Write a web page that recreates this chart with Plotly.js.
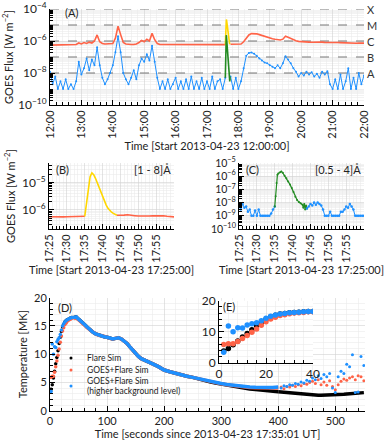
<!DOCTYPE html>
<html>
<head>
<meta charset="utf-8">
<script src="https://cdn.plot.ly/plotly-3.0.1.min.js"></script>
<style>html,body{margin:0;padding:0;background:#fff}</style>
</head>
<body>
<div id="chart" style="width:389px;height:442px"></div>
<script>
// ---- data ----
const DAY = '2013-04-23 ';

// GOES class thresholds (panel A dashed lines)
const goesClassFlux = [1e-4, 1e-5, 1e-6, 1e-7, 1e-8];
const goesClassLabel = ['X', 'M', 'C', 'B', 'A'];

// panel A: 5 min samples 12:00 -> 22:00
const longChannelA = [
    5.5e-7,5.5e-7,5.4e-7,5.5e-7,5.4e-7,5.5e-7,5.5e-7,5.4e-7,5.5e-7,5.6e-7,6.0e-7,7.5e-7,
    6.5e-7,8.0e-7,7.0e-7,8.5e-7,7.5e-7,1.0e-6,2.4e-6,9.0e-7,7.0e-7,6.5e-7,6.5e-7,6.5e-7,
    7.0e-7,1.5e-6,8.5e-6,2.5e-6,8.0e-7,6.5e-7,6.0e-7,6.0e-7,6.0e-7,6.5e-7,8.0e-7,1.1e-6,
    9.0e-7,1.3e-6,1.0e-6,3.0e-6,1.2e-6,7.0e-7,6.0e-7,6.0e-7,5.9e-7,5.9e-7,6.0e-7,6.0e-7,
    6.1e-7,6.0e-7,6.0e-7,6.1e-7,6.2e-7,6.1e-7,6.1e-7,6.2e-7,6.3e-7,6.2e-7,6.3e-7,6.3e-7,
    6.4e-7,6.3e-7,6.2e-7,6.1e-7,6.0e-7,5.8e-7,5.8e-7,5.9e-7,null,6.3e-7,6.2e-7,6.3e-7,
    6.0e-7,6.5e-7,9.0e-7,1.6e-6,2.4e-6,2.9e-6,3.0e-6,2.8e-6,2.5e-6,2.2e-6,1.9e-6,1.7e-6,
    1.5e-6,1.4e-6,1.3e-6,1.2e-6,1.15e-6,1.3e-6,2.0e-6,1.7e-6,1.4e-6,1.2e-6,1.05e-6,9.5e-7,
    9.0e-7,8.8e-7,8.5e-7,8.5e-7,8.3e-7,8.5e-7,8.8e-7,8.3e-7,8.5e-7,8.2e-7,8.0e-7,8.3e-7,
    8.0e-7,7.8e-7,8.0e-7,7.9e-7,7.7e-7,7.8e-7,7.5e-7,7.4e-7,7.6e-7,7.3e-7,7.5e-7,7.2e-7,
    7.4e-7
];
const shortChannelA = [
    1.2e-8,2e-9,6e-9,1e-9,3e-9,1e-9,4e-9,1e-9,2e-9,1e-9,3e-9,5e-8,
    8e-9,2e-8,8e-8,1.5e-8,7e-8,3e-8,4e-7,3e-8,5e-9,2e-9,4e-9,1e-8,
    3e-8,2e-7,2e-6,2e-7,1e-8,4e-9,2e-9,5e-9,1.5e-8,4e-9,3e-8,8e-8,
    5e-8,1.5e-7,6e-8,5e-7,5e-8,5e-9,1e-9,3e-9,1e-9,4e-9,1e-9,2e-9,
    5e-9,1e-9,3e-9,1e-9,4e-9,1e-9,6e-9,1e-9,3e-9,1e-9,5e-9,1e-9,
    3e-9,1e-9,6e-9,1e-9,3e-9,4e-9,1e-9,5e-9,null,6e-9,1e-9,5e-9,
    1e-9,3e-9,2e-8,1.2e-7,1.8e-7,1.9e-7,1.6e-7,1.2e-7,8e-8,6e-8,4.5e-8,4e-8,
    3e-8,2.5e-8,2e-8,3e-8,2e-8,4e-8,1.1e-7,7e-8,4e-8,2e-8,1.2e-8,6e-9,
    1e-8,7e-9,1.2e-8,8e-9,1.1e-8,6e-9,9e-9,5e-9,1.2e-8,8e-9,1.3e-8,2e-9,
    1e-9,4e-9,1e-9,8e-9,1e-9,3e-9,2e-8,1e-9,5e-9,1e-9,1e-8,2e-9,
    7e-9
];

// panels B / C: 17:25 -> 18:00
const preLongFlux = [5.7e-7,5.6e-7,5.7e-7,5.7e-7,5.6e-7,5.7e-7,5.7e-7,5.8e-7,5.7e-7,5.8e-7,5.9e-7];
const flareLongTimes = ['17:35:00','17:35:30','17:36:00','17:36:30','17:37:00','17:37:30','17:38:00','17:38:30',
    '17:39:00','17:39:30','17:40:00','17:40:30','17:41:00','17:41:30','17:42:00','17:42:30','17:43:00','17:43:30','17:44:00'];
const flareLongFlux = [5.9e-7,1.8e-6,7e-6,1.6e-5,2.2e-5,1.9e-5,1.4e-5,9.5e-6,6.5e-6,4.3e-6,2.9e-6,2.0e-6,
    1.5e-6,1.15e-6,9.5e-7,8.3e-7,7.5e-7,6.9e-7,6.4e-7];
const postLongFlux = [6.4e-7,6.3e-7,6.5e-7,6.7e-7,6.6e-7,6.2e-7,6.0e-7,5.9e-7,5.9e-7,6.0e-7,6.1e-7,6.2e-7,
    6.4e-7,6.2e-7,5.9e-7,5.7e-7,5.6e-7];

const preShortFlux = [5e-9,3e-9,8e-9,4e-9,5e-9,2e-9,3e-9,1e-9,1e-9,2.5e-9,1e-9,3e-9,1e-9,1e-9,1e-9,1e-9,
    1e-9,1e-9,1.5e-9,3e-9,5e-9];
const flareShortTimes = ['17:35:00','17:35:15','17:35:30','17:35:45','17:36:00','17:36:30','17:36:50','17:37:15',
    '17:37:45','17:38:15','17:38:45','17:39:15','17:39:45','17:40:15','17:40:45','17:41:15','17:41:45','17:42:15',
    '17:42:45','17:43:00','17:43:15','17:43:30','17:43:45','17:44:00'];
const flareShortFlux = [5e-9,3e-8,3e-7,1.3e-6,1.6e-6,2.0e-6,2.3e-6,1.8e-6,1.1e-6,7e-7,4e-7,2.4e-7,1.25e-7,
    6.3e-8,2.8e-8,1.6e-8,1.1e-8,9e-9,7e-9,4e-9,8e-9,3e-9,6e-9,3.5e-9];
const postShortFlux = [3.5e-9,5e-9,8e-9,6e-9,1e-8,7e-9,1e-8,8e-9,6e-9,3e-9,1e-9,1e-9,1e-9,2e-9,1e-9,1e-9,
    1e-9,1e-9,1e-9,2e-9,2e-9,3e-9,5e-9,4e-9,8e-9,5e-9,3e-9,1e-9,1e-9,1e-9,1e-9,1e-9,1e-9];

// panels D / E: temperature [MK] vs seconds
const earlyTimes = [2,4,6,8,10,12,14,16,18,20,22,24,26,28,30,32,34,36,38,40];
const simEarly = [3.8,4.6,5.8,7.0,8.3,9.4,10.6,11.9,13.0,14.0,14.8,15.3,15.7,15.9,16.1,16.2,16.3,16.4,16.5,16.5];
const goesEarly = [5.9,6.1,6.1,6.8,7.8,8.8,9.8,10.9,12.1,13.2,14.1,14.7,15.2,15.5,15.8,16.0,16.1,16.2,16.4,16.4];
const goesHighEarly = [3.4,11.8,10.0,11.3,11.2,12.2,12.6,12.9,13.5,14.3,15.0,15.4,15.7,15.9,16.1,16.2,16.3,16.4,16.5,16.5];

const mainTimes = [42,46,50,55,60,65,70,75,80,85,90,95,100,105,110,115,120,125,130,135,140,145,150,155,160,
    170,180,190,200,210,220,230,240,250,260,270,280,290,300,310,320,330,340,350,360,370,380,390,400];
const simMain = [16.5,16.6,16.2,15.8,15.3,14.8,14.3,13.9,13.6,13.4,13.3,13.1,13.0,12.8,12.7,12.8,12.9,12.7,
    12.3,11.9,11.3,10.7,10.2,9.6,9.2,8.8,8.3,7.8,7.2,6.9,6.6,6.3,6.1,5.9,5.6,5.35,5.1,4.9,4.7,4.5,4.3,4.15,
    4.0,3.85,3.75,3.65,3.55,3.45,3.35];
const goesMain = [16.3,16.4,16.1,15.7,15.2,14.7,14.3,13.9,13.6,13.4,13.3,13.1,13.0,12.8,12.7,12.8,12.9,12.7,
    12.3,11.9,11.3,10.7,10.2,9.6,9.2,8.8,8.3,7.8,7.2,6.9,6.6,6.3,6.1,5.9,5.65,5.45,5.2,5.0,4.75,4.6,4.45,4.3,
    4.2,4.1,4.05,4.0,3.95,3.95,4.0];
const goesHighMain = [16.5,16.6,16.2,15.8,15.3,14.8,14.3,13.9,13.6,13.4,13.3,13.1,13.0,12.8,12.7,12.8,12.9,12.7,
    12.3,11.9,11.3,10.7,10.2,9.6,9.2,8.8,8.3,7.8,7.2,6.9,6.6,6.3,6.1,5.9,5.65,5.45,5.2,5.0,4.8,4.65,4.5,4.4,
    4.3,4.2,4.15,4.1,4.1,4.1,4.2];

const tailTimes = [405,410,415,420,425,430,435,440,445,450,455,460,465,470,475,480,485,490,495,500,
    505,510,515,520,525,530,535,540,545,550];
const simTail = [3.3,3.25,3.2,3.15,3.1,3.05,3.0,2.95,2.9,2.85,2.8,2.78,2.76,2.75,2.75,2.75,2.76,2.77,2.78,2.8,
    2.83,2.86,2.9,2.95,3.0,3.05,3.1,3.12,3.15,3.2];
const goesTail = [4.2,3.9,4.3,4.2,4.5,4.3,4.6,4.4,4.8,4.7,5.0,5.2,4.8,5.5,4.6,5.1,4.5,5.3,4.3,3.7,
    4.6,5.2,5.6,5.4,5.8,6.0,5.5,6.2,6.0,5.3];
const goesHighTail = [4.0,4.4,4.3,4.6,4.5,4.8,4.7,5.1,4.9,5.4,5.2,5.8,5.5,6.2,5.7,6.4,6.0,6.6,4.0,3.2,
    6.0,7.0,6.6,8.2,7.8,9.9,3.2,3.3,9.6,8.0];

const legendNames = ['Flare Sim', 'GOES+Flare Sim', 'GOES+Flare Sim', '(higher background level)'];

// ---- helpers ----
const W = 389, H = 442;
const px = v => v / W;
const py = v => 1 - v / H;

function clock(startMin, stepSec, n) {
    return Array.from({length: n}, (v, i) => {
        const s = startMin * 60 + i * stepSec;
        const h = String(Math.floor(s / 3600)).padStart(2, '0');
        const m = String(Math.floor(s / 60) % 60).padStart(2, '0');
        const sec = String(s % 60).padStart(2, '0');
        return DAY + h + ':' + m + ':' + sec;
    });
}
const stamp = t => DAY + t;

function minorLog(lo, hi, extraDecades) {
    const out = [];
    for (let d = lo; d < hi; d++) {
        for (let k = 2; k <= 9; k++) out.push(k * Math.pow(10, d));
    }
    (extraDecades || []).forEach(d => out.push(Math.pow(10, d)));
    return out;
}
function powLabel(d) { return '10<sup>' + (d < 0 ? '\u2212' + (-d) : d) + '</sup>'; }

const RED = '#ff6347', BLUE = '#1e90ff', GOLD = '#ffd700', GREEN = '#228b22';

const timesA = clock(12 * 60, 300, 121);
const preLongTimes = clock(17 * 60 + 25, 60, 11);
const postLongTimes = clock(17 * 60 + 44, 60, 17);
const preShortTimes = clock(17 * 60 + 25, 30, 21);
const postShortTimes = clock(17 * 60 + 44, 30, 33);

const minorGrid = {ticks: 'inside', ticklen: 3, tickcolor: '#000', showgrid: true, gridcolor: '#ebebeb', gridwidth: 0.6};
function axis(extra) {
    return Object.assign({
        showline: true, linecolor: '#000', linewidth: 1, ticks: 'inside', ticklen: 5, tickcolor: '#000',
        showgrid: true, gridcolor: '#d2d2d2', gridwidth: 0.6, zeroline: false, mirror: false,
        tickfont: {size: 11}, automargin: false
    }, extra);
}

// ---- traces ----
const traces = [];

// class threshold lines
const classX = [], classY = [];
goesClassFlux.forEach(v => { classX.push(stamp('12:00:00'), stamp('22:00:00'), null); classY.push(v, v, null); });
traces.push({x: classX, y: classY, xaxis: 'x', yaxis: 'y', mode: 'lines', line: {color: '#777', width: 1, dash: 'dash'}, hoverinfo: 'skip'});

traces.push({x: timesA, y: longChannelA, xaxis: 'x', yaxis: 'y', mode: 'lines', line: {color: RED, width: 1.6}});
traces.push({x: timesA, y: shortChannelA, xaxis: 'x', yaxis: 'y', mode: 'lines+markers', line: {color: BLUE, width: 1}, marker: {size: 2, color: BLUE}});
traces.push({x: flareLongTimes.map(stamp), y: flareLongFlux, xaxis: 'x', yaxis: 'y', mode: 'lines', line: {color: GOLD, width: 1.6}});
traces.push({x: flareShortTimes.map(stamp), y: flareShortFlux, xaxis: 'x', yaxis: 'y', mode: 'lines', line: {color: GREEN, width: 1.6}});

// panel B
traces.push({x: preLongTimes, y: preLongFlux, xaxis: 'x2', yaxis: 'y2', mode: 'lines', line: {color: RED, width: 1.6}});
traces.push({x: flareLongTimes.map(stamp), y: flareLongFlux, xaxis: 'x2', yaxis: 'y2', mode: 'lines', line: {color: GOLD, width: 1.6}});
traces.push({x: postLongTimes, y: postLongFlux, xaxis: 'x2', yaxis: 'y2', mode: 'lines', line: {color: RED, width: 1.6}});

// panel C
traces.push({x: preShortTimes, y: preShortFlux, xaxis: 'x3', yaxis: 'y3', mode: 'lines+markers', line: {color: BLUE, width: 1}, marker: {size: 2.5, color: BLUE}});
traces.push({x: flareShortTimes.map(stamp), y: flareShortFlux, xaxis: 'x3', yaxis: 'y3', mode: 'lines+markers', line: {color: GREEN, width: 1.2}, marker: {size: 2, color: GREEN}});
traces.push({x: postShortTimes, y: postShortFlux, xaxis: 'x3', yaxis: 'y3', mode: 'lines+markers', line: {color: BLUE, width: 1}, marker: {size: 2.5, color: BLUE}});

// panel D: black, red, blue
const dSeries = [
    {early: simEarly, main: simMain, tail: simTail, color: '#000', tailLine: true},
    {early: goesEarly, main: goesMain, tail: goesTail, color: RED, tailLine: false},
    {early: goesHighEarly, main: goesHighMain, tail: goesHighTail, color: BLUE, tailLine: false}
];
dSeries.forEach(s => {
    traces.push({x: earlyTimes, y: s.early, xaxis: 'x4', yaxis: 'y4', mode: 'markers', marker: {size: 3.5, color: s.color}});
    traces.push({x: mainTimes, y: s.main, xaxis: 'x4', yaxis: 'y4', mode: 'lines', line: {color: s.color, width: 3.5}});
    if (s.tailLine) {
        traces.push({x: [400].concat(tailTimes), y: [s.main[s.main.length - 1]].concat(s.tail), xaxis: 'x4', yaxis: 'y4', mode: 'lines', line: {color: s.color, width: 3.5}});
    } else {
        traces.push({x: tailTimes, y: s.tail, xaxis: 'x4', yaxis: 'y4', mode: 'markers', marker: {size: 3, color: s.color}});
    }
});
// inset E
dSeries.forEach(s => {
    traces.push({x: earlyTimes, y: s.early, xaxis: 'x5', yaxis: 'y5', mode: 'markers', marker: {size: 5.5, color: s.color}});
});

// ---- annotations / legend ----
const annotations = [];
goesClassFlux.forEach((v, i) => annotations.push({
    text: goesClassLabel[i], xref: 'paper', yref: 'y', x: px(365), y: Math.log10(v),
    xanchor: 'left', yanchor: 'middle', showarrow: false, font: {size: 11, color: '#333'}
}));
function label(text, x, y, anchor, size) {
    annotations.push({text: text, xref: 'paper', yref: 'paper', x: px(x), y: py(y), xanchor: anchor || 'left',
        yanchor: 'middle', showarrow: false, font: {size: size || 11, color: '#222'}});
}
label('(A)', 63, 12);
label('(B)', 54, 169);
label('[1 - 8]Å', 173, 169, 'right');
label('(C)', 244, 169);
label('[0.5 - 4]Å', 363, 169, 'right');
label('(D)', 56, 307);
label('(E)', 221, 306);

const legendY = [358, 370, 381, 390.5];
legendNames.forEach((t, i) => label(t, 85, legendY[i], 'left', 8.5));
const shapes = [];
[[358, '#000'], [370, RED], [386, BLUE]].forEach(m => {
    shapes.push({type: 'circle', xref: 'paper', yref: 'paper', x0: px(69.5), x1: px(72.5), y0: py(m[0] + 1.5), y1: py(m[0] - 1.5),
        fillcolor: m[1], line: {width: 0}});
});

// ---- layout ----
const dateX = (domain, anchor, extra) => axis(Object.assign({type: 'date', domain: domain, anchor: anchor, tickformat: '%H:%M', tickangle: -90}, extra));

const layout = {
    width: W, height: H,
    margin: {l: 0, r: 0, t: 0, b: 0},
    paper_bgcolor: '#fff', plot_bgcolor: '#fff',
    showlegend: false,
    font: {family: 'Lato, "Open Sans", sans-serif', size: 11, color: '#222'},
    xaxis: dateX([px(50), px(364)], 'y', {
        range: [stamp('12:00:00'), stamp('22:00:00')], dtick: 3600000, tick0: stamp('12:00:00'),
        minor: Object.assign({dtick: 720000}, minorGrid),
        title: {text: 'Time [Start 2013-04-23 12:00:00]', standoff: 2, font: {size: 11}}
    }),
    yaxis: axis({
        type: 'log', domain: [py(105), py(9)], anchor: 'x', range: [-10, -4],
        tickmode: 'array', tickvals: [1e-10, 1e-8, 1e-6, 1e-4], ticktext: [-10, -8, -6, -4].map(powLabel),
        minor: Object.assign({tickmode: 'array', tickvals: minorLog(-10, -4, [-9, -7, -5])}, minorGrid),
        tickfont: {size: 12},
        title: {text: 'GOES Flux [W m<sup>\u22122</sup>]', standoff: 4, font: {size: 11}}
    }),
    xaxis2: dateX([px(49), px(174)], 'y2', {
        range: [stamp('17:25:00'), stamp('17:59:58')], dtick: 300000, tick0: stamp('17:25:00'),
        minor: Object.assign({dtick: 60000}, minorGrid),
        title: {text: 'Time [Start 2013-04-23 17:25:00]', standoff: 3, font: {size: 11}}
    }),
    yaxis2: axis({
        type: 'log', domain: [py(229), py(163)], anchor: 'x2', range: [-6.69, -4.3],
        tickmode: 'array', tickvals: [1e-6, 1e-5], ticktext: [powLabel(-6), powLabel(-5)],
        minor: Object.assign({tickmode: 'array', tickvals: minorLog(-7, -4)}, minorGrid),
        tickfont: {size: 12},
        title: {text: 'GOES Flux [W m<sup>\u22122</sup>]', standoff: 4, font: {size: 11}}
    }),
    xaxis3: dateX([px(239), px(364)], 'y3', {
        range: [stamp('17:25:00'), stamp('17:59:58')], dtick: 300000, tick0: stamp('17:25:00'),
        minor: Object.assign({dtick: 60000}, minorGrid),
        title: {text: 'Time [Start 2013-04-23 17:25:00]', standoff: 3, font: {size: 11}}
    }),
    yaxis3: axis({
        type: 'log', domain: [py(229), py(163)], anchor: 'x3', range: [-10, -5],
        tickmode: 'array', tickvals: [1e-10, 1e-9, 1e-8, 1e-7, 1e-6, 1e-5], ticktext: [-10, -9, -8, -7, -6, -5].map(powLabel),
        minor: Object.assign({tickmode: 'array', tickvals: minorLog(-10, -5)}, minorGrid),
        tickfont: {size: 10.5}
    }),
    xaxis4: axis({
        domain: [px(50), px(365)], anchor: 'y4', range: [0, 552], dtick: 100, tick0: 0,
        minor: Object.assign({dtick: 20}, minorGrid),
        title: {text: 'Time [seconds since 2013-04-23 17:35:01 UT]', standoff: 2, font: {size: 11}}
    }),
    yaxis4: axis({
        domain: [py(410.7), py(297.7)], anchor: 'x4', range: [0, 20], dtick: 5, tick0: 0,
        minor: Object.assign({dtick: 1}, minorGrid),
        title: {text: 'Temperature [MK]', standoff: 4, font: {size: 11}}
    }),
    xaxis5: axis({
        domain: [px(219), px(313)], anchor: 'y5', range: [0, 40], dtick: 20, tick0: 0,
        minor: Object.assign({dtick: 4}, minorGrid), tickfont: {size: 12}
    }),
    yaxis5: axis({
        domain: [py(362.7), py(300.7)], anchor: 'x5', range: [0, 20], dtick: 10, tick0: 0,
        minor: Object.assign({dtick: 2}, minorGrid), tickfont: {size: 12}
    }),
    annotations: annotations,
    shapes: shapes
};

Plotly.newPlot('chart', traces, layout, {displayModeBar: false, staticPlot: true});
</script>
</body>
</html>
